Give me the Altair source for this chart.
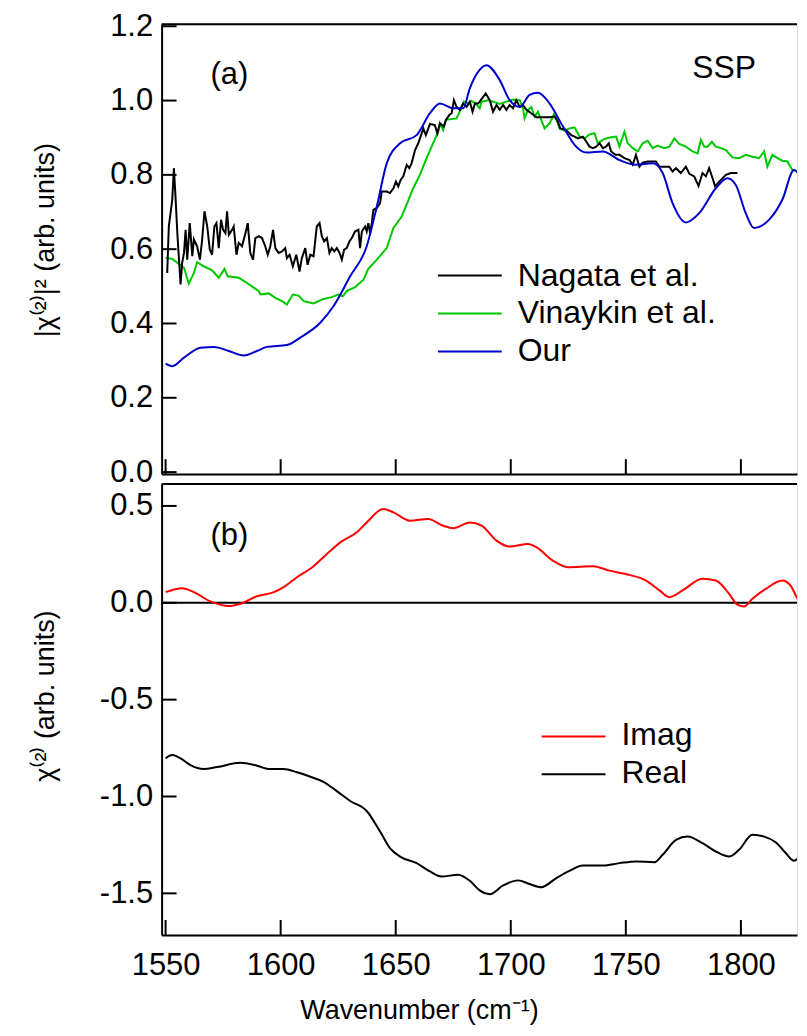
import altair as alt
import pandas as pd

# ---------------- data ----------------
nagata_wn = [1550.7, 1551.4, 1552.9, 1553.6, 1554.3, 1555.1, 1556.5, 1557.2, 1558.0, 1558.7,
             1559.4, 1560.5, 1561.6, 1562.3, 1563.7, 1564.9, 1565.9, 1566.9, 1568.1, 1569.2,
             1570.2, 1571.2, 1572.1, 1573.1, 1574.1, 1575.0, 1576.0, 1576.7, 1577.5, 1578.9,
             1579.6, 1580.8, 1581.8, 1583.2, 1584.7, 1585.7, 1586.8, 1588.0, 1589.0, 1590.5,
             1591.9, 1593.3, 1594.4, 1595.5, 1596.7, 1597.7, 1599.1, 1600.6, 1602.0, 1602.7,
             1603.9, 1605.3, 1606.8, 1608.2, 1609.2, 1610.7, 1611.7, 1612.9, 1614.3, 1615.7,
             1616.9, 1617.9, 1618.9, 1620.1, 1621.2, 1622.2, 1623.3, 1624.4, 1625.6, 1626.6,
             1627.6, 1628.7, 1629.9, 1630.9, 1632.4, 1633.8, 1634.5, 1635.3, 1636.7, 1637.4,
             1638.1, 1638.9, 1639.6, 1640.3, 1641.8, 1643.2, 1643.9, 1646.1, 1647.5, 1649.0,
             1650.1, 1651.1, 1652.2, 1653.3, 1654.8, 1655.9, 1656.9, 1658.4, 1659.8, 1660.8,
             1662.0, 1663.1, 1664.9, 1667.0, 1668.1, 1669.2, 1670.9, 1671.8, 1673.3, 1674.3,
             1675.3, 1676.4, 1677.9, 1679.3, 1680.8, 1682.2, 1683.4, 1684.4, 1685.8,
             1686.5, 1689.1, 1690.9, 1692.3, 1693.8, 1695.2, 1696.7, 1698.1, 1699.5, 1701.0,
             1702.4, 1703.9, 1705.3, 1706.8, 1708.9, 1711.1, 1716.9, 1719.0, 1720.5, 1721.5,
             1723.4, 1724.8, 1726.3, 1727.7, 1729.2, 1731.3, 1732.8, 1734.2, 1735.7, 1737.1,
             1738.6, 1740.0, 1741.4, 1742.6, 1743.6, 1745.5, 1747.2, 1749.4, 1751.6, 1753.0,
             1754.4, 1755.9, 1757.3, 1759.5, 1763.1, 1764.6, 1768.9, 1770.3, 1771.8, 1773.9,
             1776.1, 1777.6, 1779.7, 1781.6, 1783.3, 1784.8, 1786.2, 1787.7, 1788.8, 1790.6,
             1793.5, 1795.6, 1798.5]
nagata_val = [0.536, 0.661, 0.733, 0.818, 0.742, 0.643, 0.505, 0.563, 0.590, 0.652,
              0.572, 0.670, 0.581, 0.626, 0.608, 0.572, 0.626, 0.702, 0.661, 0.599,
              0.585, 0.661, 0.670, 0.603, 0.679, 0.652, 0.643, 0.702, 0.639, 0.652,
              0.661, 0.585, 0.617, 0.608, 0.643, 0.670, 0.590, 0.572, 0.630, 0.635,
              0.630, 0.608, 0.585, 0.608, 0.652, 0.603, 0.590, 0.594, 0.603, 0.576,
              0.585, 0.554, 0.585, 0.540, 0.576, 0.603, 0.558, 0.585, 0.581, 0.661,
              0.670, 0.635, 0.621, 0.630, 0.590, 0.603, 0.594, 0.603, 0.590, 0.572,
              0.599, 0.603, 0.621, 0.630, 0.648, 0.652, 0.603, 0.648, 0.661, 0.648,
              0.670, 0.643, 0.670, 0.706, 0.711, 0.724, 0.755, 0.755, 0.751, 0.764,
              0.782, 0.769, 0.787, 0.796, 0.827, 0.818, 0.831, 0.867, 0.885, 0.903,
              0.925, 0.907, 0.937, 0.934, 0.912, 0.939, 0.930, 0.948, 0.961, 0.966,
              1.001, 0.983, 0.975, 0.992, 0.983, 0.997, 0.970, 0.992, 0.992,
              0.997, 1.019, 1.001, 0.970, 0.988, 0.975, 0.988, 0.975, 0.988, 0.979,
              1.001, 0.983, 0.988, 0.975, 0.966, 0.955, 0.955, 0.957, 0.943, 0.925,
              0.923, 0.916, 0.907, 0.903, 0.898, 0.903, 0.890, 0.876, 0.872, 0.876,
              0.885, 0.872, 0.876, 0.885, 0.863, 0.854, 0.854, 0.845, 0.840, 0.827,
              0.854, 0.822, 0.833, 0.836, 0.836, 0.822, 0.822, 0.809, 0.818, 0.805,
              0.822, 0.803, 0.796, 0.770, 0.805, 0.796, 0.818, 0.791, 0.769, 0.782,
              0.800, 0.805, 0.805]

vinaykin_wn = [1550.0, 1552.9, 1558.0, 1560.1, 1562.3, 1563.7, 1566.6, 1570.2, 1573.1, 1575.6,
               1577.0, 1581.8, 1585.4, 1590.5, 1591.2, 1594.8, 1597.7, 1600.6, 1602.7, 1605.3,
               1607.8, 1610.0, 1614.3, 1618.6, 1622.2, 1625.1, 1627.0, 1628.7, 1632.4, 1636.0,
               1638.1, 1641.8, 1646.1, 1649.0, 1652.6, 1655.0, 1657.6, 1660.5, 1663.1, 1665.6,
               1668.5, 1669.2, 1670.6, 1671.8, 1676.4, 1678.2, 1679.6, 1681.5, 1682.9, 1684.8,
               1686.5, 1687.3, 1690.1, 1692.3, 1695.2, 1698.1, 1701.0, 1703.9, 1705.3, 1706.0,
               1707.5, 1708.9, 1710.4, 1711.8, 1714.7, 1716.9, 1719.0, 1721.2, 1723.4, 1725.5,
               1727.7, 1729.9, 1732.0, 1734.2, 1736.4, 1737.8, 1740.0, 1741.4, 1743.6, 1745.8,
               1747.2, 1749.4, 1750.8, 1753.0, 1755.2, 1757.3, 1759.5, 1761.7, 1763.8, 1766.7,
               1768.9, 1771.1, 1773.2, 1776.1, 1779.0, 1781.2, 1782.6, 1784.1, 1785.5, 1787.4,
               1789.1, 1791.3, 1793.5, 1796.3, 1799.2, 1802.1, 1805.0, 1807.9, 1810.1, 1811.5,
               1813.7, 1815.9, 1818.0, 1820.2, 1822.4, 1825.2, 1827.1, 1828.1]
vinaykin_val = [0.576, 0.574, 0.550, 0.507, 0.536, 0.565, 0.554, 0.543, 0.523, 0.547,
                0.527, 0.523, 0.509, 0.487, 0.478, 0.481, 0.469, 0.460, 0.451, 0.478,
                0.475, 0.460, 0.454, 0.466, 0.471, 0.478, 0.473, 0.487, 0.498, 0.518,
                0.547, 0.572, 0.603, 0.657, 0.688, 0.724, 0.764, 0.800, 0.840, 0.876,
                0.916, 0.939, 0.921, 0.948, 0.952, 0.975, 0.997, 0.992, 0.999, 0.992,
                0.979, 0.997, 1.001, 0.997, 0.991, 0.997, 1.003, 1.001, 0.979, 0.952,
                0.975, 0.982, 0.957, 0.970, 0.925, 0.939, 0.966, 0.925, 0.919, 0.925,
                0.928, 0.903, 0.898, 0.909, 0.912, 0.885, 0.894, 0.898, 0.901, 0.903,
                0.876, 0.916, 0.885, 0.872, 0.863, 0.885, 0.892, 0.872, 0.879, 0.872,
                0.876, 0.898, 0.883, 0.876, 0.863, 0.858, 0.894, 0.876, 0.876, 0.889,
                0.876, 0.872, 0.867, 0.847, 0.845, 0.854, 0.849, 0.845, 0.863, 0.822,
                0.854, 0.845, 0.838, 0.836, 0.813, 0.809, 0.787, 0.805]

our_wn = [1550.0, 1552.9, 1558.0, 1565.2, 1571.0, 1577.5, 1584.0, 1589.7, 1594.1, 1602.7,
          1608.5, 1617.2, 1623.0, 1630.2, 1637.4, 1641.8, 1646.1, 1651.9, 1659.1, 1664.9,
          1669.2, 1675.0, 1679.3, 1682.2, 1685.8, 1689.4, 1695.2, 1699.5, 1703.9, 1708.2,
          1711.8, 1716.9, 1722.7, 1728.4, 1732.8, 1740.0, 1747.2, 1754.4, 1761.7, 1766.0,
          1770.3, 1776.1, 1781.9, 1789.1, 1794.2, 1797.8, 1802.1, 1805.7, 1812.2, 1818.0,
          1823.1, 1826.7, 1828.1]
our_val = [0.292, 0.285, 0.308, 0.335, 0.337, 0.326, 0.314, 0.326, 0.337, 0.342,
           0.362, 0.402, 0.447, 0.527, 0.608, 0.715, 0.831, 0.885, 0.907, 0.966,
           0.992, 0.979, 0.979, 1.033, 1.077, 1.095, 1.055, 1.001, 0.983, 1.015,
           1.021, 0.992, 0.930, 0.876, 0.860, 0.863, 0.840, 0.827, 0.831, 0.805,
           0.724, 0.672, 0.697, 0.764, 0.791, 0.773, 0.697, 0.657, 0.679, 0.733,
           0.813, 0.769, 0.715]

imag_wn = [1550.0, 1557.2, 1562.3, 1569.5, 1577.5, 1582.5, 1589.7, 1597.0, 1601.3, 1607.1,
           1614.3, 1620.1, 1625.9, 1633.1, 1637.4, 1644.6, 1649.0, 1656.2, 1664.1, 1670.6,
           1675.0, 1682.2, 1687.3, 1693.8, 1699.5, 1707.5, 1711.1, 1718.3, 1724.8, 1735.7,
           1742.9, 1751.6, 1758.8, 1764.6, 1768.9, 1774.7, 1783.3, 1789.1, 1794.9, 1798.5,
           1801.4, 1805.0, 1810.8, 1818.0, 1821.6, 1825.2, 1827.4, 1828.1]
imag_val = [0.055, 0.075, 0.055, 0.007, -0.017, -0.005, 0.034, 0.055, 0.081, 0.132,
            0.189, 0.252, 0.312, 0.364, 0.415, 0.484, 0.467, 0.424, 0.433, 0.398,
            0.385, 0.415, 0.398, 0.321, 0.290, 0.304, 0.287, 0.218, 0.184, 0.189,
            0.166, 0.144, 0.115, 0.064, 0.029, 0.064, 0.124, 0.115, 0.046, -0.010,
            -0.019, 0.021, 0.072, 0.115, 0.089, 0.012, 0.000, 0.012]

real_wn = [1550.0, 1552.9, 1556.5, 1560.8, 1566.6, 1572.4, 1582.5, 1589.7, 1594.8, 1601.3,
           1607.1, 1612.9, 1618.6, 1624.4, 1630.2, 1637.4, 1643.2, 1647.5, 1651.9, 1659.1,
           1664.9, 1669.9, 1677.1, 1682.2, 1686.5, 1690.9, 1696.7, 1703.2, 1708.2, 1713.3,
           1719.8, 1725.5, 1731.3, 1740.0, 1747.2, 1754.4, 1762.4, 1766.0, 1771.8, 1776.8,
           1783.3, 1789.1, 1794.9, 1799.2, 1805.0, 1810.1, 1815.1, 1819.5, 1823.1, 1826.7,
           1828.1]
real_val = [-0.803, -0.786, -0.803, -0.838, -0.858, -0.848, -0.826, -0.841, -0.858, -0.858,
            -0.875, -0.898, -0.924, -0.972, -1.023, -1.075, -1.181, -1.267, -1.310, -1.344,
            -1.387, -1.413, -1.404, -1.435, -1.485, -1.504, -1.459, -1.433, -1.452, -1.468,
            -1.421, -1.384, -1.356, -1.356, -1.344, -1.335, -1.339, -1.301, -1.224, -1.207,
            -1.241, -1.284, -1.310, -1.275, -1.198, -1.207, -1.236, -1.292, -1.332, -1.284,
            -1.250]

x_ticks = [1550, 1600, 1650, 1700, 1750, 1800]
ya_ticks = [0.0, 0.2, 0.4, 0.6, 0.8, 1.0, 1.2]
yb_ticks = [-1.5, -1.0, -0.5, 0.0, 0.5]

legend_a_labels = ["Nagata et al.", "Vinaykin et al.", "Our"]
legend_a_colors = ["#000000", "#00C800", "#0000CC"]
legend_b_labels = ["Imag", "Real"]
legend_b_colors = ["#FF0000", "#000000"]

# ---------------- layout / style ----------------
W = 637
HA = 451
HB = 452
X_DOMAIN = [1548.27, 1548.27 + W / 2.307]
YA_DOMAIN = [-0.0054, 1.2054]
YB_DOMAIN = [-1.7147, 0.6128]
SANS = "Liberation Sans, Arial, sans-serif"
TITLE_SIZE = 27
TICK_LEN = 15
LW = 2

xs = alt.Scale(domain=X_DOMAIN, nice=False, zero=False)
yas = alt.Scale(domain=YA_DOMAIN, nice=False, zero=False)
ybs = alt.Scale(domain=YB_DOMAIN, nice=False, zero=False)

label_expr = "(datum.value < 0 ? '-' : '') + format(abs(datum.value), '.1f')"

x_axis_a = alt.Axis(values=x_ticks, labels=False, ticks=False, grid=False, domain=True,
                    domainColor="black", domainWidth=LW, title=None)
x_axis_b = alt.Axis(values=x_ticks, format="d", labels=True, labelFont=SANS, labelFontSize=31,
                    labelColor="black", labelPadding=16, labelFlush=False, labelOverlap=False,
                    ticks=False, grid=False, domain=True, domainColor="black", domainWidth=LW,
                    title="Wavenumber (cm\u207b\u00b9)", titleFont=SANS, titleFontSize=TITLE_SIZE,
                    titleFontWeight="normal", titleColor="black", titleX=258, titleY=84,
                    titleAlign="center", titleBaseline="alphabetic")
y_axis_a = alt.Axis(values=ya_ticks, labelExpr=label_expr, labelFont=SANS, labelFontSize=31,
                    labelColor="black", labelPadding=9, labelOverlap=False, labelFlush=False,
                    ticks=False, grid=False, domain=True, domainColor="black", domainWidth=LW,
                    title="|\u03c7\u207d\u00b2\u207e|\u00b2 (arb. units)", titleFont=SANS,
                    titleFontSize=TITLE_SIZE, titleFontWeight="normal", titleColor="black",
                    titleAngle=270, titleX=-108, titleY=216, titleAlign="center",
                    titleBaseline="alphabetic")
y_axis_b = alt.Axis(values=yb_ticks, labelExpr=label_expr, labelFont=SANS, labelFontSize=31,
                    labelColor="black", labelPadding=9, labelOverlap=False, labelFlush=False,
                    ticks=False, grid=False, domain=True, domainColor="black", domainWidth=LW,
                    title="\u03c7\u207d\u00b2\u207e (arb. units)", titleFont=SANS,
                    titleFontSize=TITLE_SIZE, titleFontWeight="normal", titleColor="black",
                    titleAngle=270, titleX=-108, titleY=212, titleAlign="center",
                    titleBaseline="alphabetic")

one = pd.DataFrame({"k": [0]})


def series(wn, val, color, ys, yaxis, xaxis, interp):
    df = pd.DataFrame({"wn": wn, "v": val})
    return alt.Chart(df).mark_line(color=color, strokeWidth=LW, clip=True, interpolate=interp).encode(
        x=alt.X("wn:Q", scale=xs, axis=xaxis),
        y=alt.Y("v:Q", scale=ys, axis=yaxis),
    )


def frame_parts(ys, yaxis, xaxis, yticks, H):
    top = alt.Chart(one).mark_rule(color="black", strokeWidth=LW).encode(
        x=alt.value(0), x2=alt.value(W), y=alt.value(0))
    xt = alt.Chart(pd.DataFrame({"wn": x_ticks})).mark_rule(color="black", strokeWidth=LW).encode(
        x=alt.X("wn:Q", scale=xs, axis=xaxis), y=alt.value(H - TICK_LEN), y2=alt.value(H))
    yt = alt.Chart(pd.DataFrame({"v": yticks})).mark_rule(color="black", strokeWidth=LW).encode(
        y=alt.Y("v:Q", scale=ys, axis=yaxis), x=alt.value(0), x2=alt.value(TICK_LEN))
    return [top, xt, yt]


def text_at(txt, x, y, size):
    return alt.Chart(one).mark_text(text=txt, align="left", baseline="alphabetic", font=SANS,
                                    fontSize=size, color="black").encode(
        x=alt.value(x), y=alt.value(y))


def legend(labels, colors, x0, x1, xt, y_line0, y_text0, step):
    parts = []
    for i, (lab, col) in enumerate(zip(labels, colors)):
        parts.append(alt.Chart(one).mark_rule(color=col, strokeWidth=LW).encode(
            x=alt.value(x0), x2=alt.value(x1), y=alt.value(y_line0 + step * i)))
        parts.append(text_at(lab, xt, y_text0 + step * i, 32))
    return parts


# ---------------- panel (a) ----------------
layers_a = frame_parts(yas, y_axis_a, x_axis_a, ya_ticks, HA)
layers_a += [
    series(vinaykin_wn, vinaykin_val, legend_a_colors[1], yas, y_axis_a, x_axis_a, "linear"),
    series(nagata_wn, nagata_val, legend_a_colors[0], yas, y_axis_a, x_axis_a, "linear"),
    series(our_wn, our_val, legend_a_colors[2], yas, y_axis_a, x_axis_a, "monotone"),
]
layers_a += legend(legend_a_labels, legend_a_colors, 277, 341, 357, 252, 262, 38)
layers_a += [text_at("(a)", 49, 60, 31), text_at("SSP", 532, 54, 32)]
panel_a = alt.layer(*layers_a).properties(width=W, height=HA)

# ---------------- panel (b) ----------------
zero = alt.Chart(pd.DataFrame({"v": [0.0]})).mark_rule(color="black", strokeWidth=LW).encode(
    y=alt.Y("v:Q", scale=ybs, axis=y_axis_b))
layers_b = frame_parts(ybs, y_axis_b, x_axis_b, yb_ticks, HB)
layers_b += [
    zero,
    series(imag_wn, imag_val, legend_b_colors[0], ybs, y_axis_b, x_axis_b, "monotone"),
    series(real_wn, real_val, legend_b_colors[1], ybs, y_axis_b, x_axis_b, "monotone"),
]
layers_b += legend(legend_b_labels, legend_b_colors, 381, 445, 461, 253, 262, 38)
layers_b += [text_at("(b)", 49, 61, 31)]
panel_b = alt.layer(*layers_b).properties(width=W, height=HB)

chart = alt.vconcat(panel_a, panel_b, spacing=10, bounds="flush").properties(
    padding={"left": 23, "top": 0, "right": 0, "bottom": 0}
).configure_view(stroke=None).configure(background="white")

chart.save("out.html", embed_options={"renderer": "svg", "actions": False})
